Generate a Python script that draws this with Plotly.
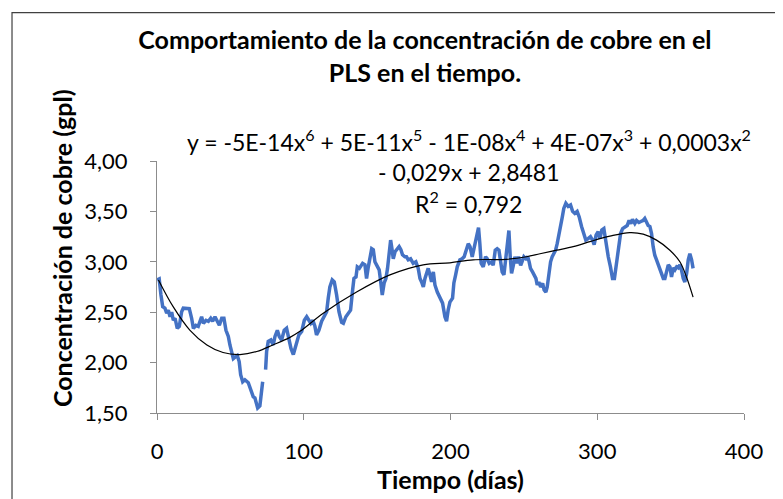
import plotly.graph_objects as go

# Copper concentration in PLS (gpl) by day; None marks the gap in the record
dias = [
    0, 1.5, 2.7, 3.9, 5.4, 6.6, 7.7, 8.9, 10, 11.1, 12.3, 13.8, 15.2, 16.8, 17.9, 20.2,
    22, 23.6, 24.8, 26.5, 28.1, 30.4, 31.6, 33.4, 35, 36.6, 37.9, 39.5, 41, 42.5, 44.1,
    45.6, 47, 48.6, 49.7, 50.9, 52, 53.6, 54.7, 56, 57, 58.4, 59.9, 62.2, 64, 65.6, 66.7,
    67.9, 68.6, 70.1, 71.3, 72, 73, 74, 74.7, 75.8, 77.6, 79.2, 80.4, 82, 83.3, 84.9,
    86.7, 88.3, 89.5, 91.3, 92.9, 94, 95.2, 96.7, 98.6, 100.4, 102, 103.2, 104.8, 106.2,
    107.6, 108.7, 110.3, 112.2, 114, 115.6, 116.7, 117.8, 119.4, 120.8, 122.4, 124, 125.8,
    127, 128.7, 130.4, 131.9, 133.3, 134.2, 135.6, 136.5, 137.9, 139, 140.1, 141.7, 142.8,
    144, 145.1, 146.3, 147.4, 148.5, 149.6, 151.4, 152.3, 153.5, 154.8, 156, 157.1, 158.2,
    159.2, 160.1, 161, 162.2, 163.7, 165, 166.2, 167.3, 168.9, 170, 171.2, 172.8, 174.6,
    176.4, 178, 179.2, 180.3, 181.5, 182.6, 183.7, 184.8, 186, 187.1, 188.3, 189.4, 191,
    192.8, 194.6, 196.2, 197.3, 198.4, 199.6, 201.4, 202.3, 203.5, 204.6, 206.4, 207.9,
    209.3, 211, 212.1, 213.3, 214.8, 216, 217.1, 218.3, 219.1, 220, 220.9, 222.3, 223.9,
    225, 226.4, 228, 229.1, 230.5, 231.8, 233, 234.1, 235.2, 236.4, 237.7, 239.1, 239.8,
    240.7, 241.6, 242.8, 243.9, 245, 246.4, 247.8, 248.9, 250, 251.4, 252.6, 253.6, 254.5,
    255.9, 257, 258.2, 259.1, 260.2, 261.4, 262.8, 263.8, 265, 265.9, 267, 268.2, 269.3,
    270.4, 271.6, 272.7, 273.8, 275, 276.2, 277.2, 278.6, 280.2, 281.8, 283.2, 284.7,
    286.3, 287.7, 289.3, 290.9, 292.2, 293.8, 295.4, 296.8, 297.9, 299.2, 300.6, 301.8,
    303.1, 304.5, 305.9, 307.5, 309, 310.4, 311.7, 313.2, 314.5, 315.9, 317.3, 318.8,
    320.4, 321.7, 322.9, 324, 325.6, 326.8, 328.4, 329.7, 331.3, 332.4, 333.6, 334.7,
    335.9, 337, 338.1, 339.2, 340.4, 341.5, 342.7, 343.8, 345, 346.1, 347.3, 348.4, 349.5,
    350.6, 351.8, 352.9, 354.1, 355.2, 356.3, 357.4, 358.6, 359.7, 360.9, 362, 363.1,
    364.3, 365.3,
]
cobre = [
    2.82, 2.83, 2.67, 2.555, 2.54, 2.49, 2.52, 2.455, 2.50, 2.42, 2.44, 2.34, 2.36, 2.505,
    2.54, 2.54, 2.535, 2.44, 2.34, 2.37, 2.36, 2.455, 2.39, 2.42, 2.41, 2.44, 2.41, 2.455,
    2.41, 2.37, 2.44, 2.44, 2.32, 2.26, 2.175, 2.09, 2.04, 2.06, 2.07, 2.01, 1.88, 1.81,
    1.83, 1.80, 1.71, 1.66, 1.65, 1.58, 1.55, 1.57, 1.71, 1.81, None, 1.93, 2.11, 2.21,
    2.225, 2.175, 2.26, 2.32, 2.26, 2.225, 2.32, 2.34, 2.26, 2.14, 2.08, 2.14, 2.225,
    2.275, 2.31, 2.42, 2.455, 2.42, 2.39, 2.42, 2.36, 2.275, 2.32, 2.41, 2.455, 2.505,
    2.64, 2.75, 2.82, 2.80, 2.67, 2.505, 2.40, 2.39, 2.455, 2.49, 2.52, 2.72, 2.835, 2.85,
    2.95, 2.935, 2.97, 2.985, 2.97, 2.835, 2.95, 3.03, 3.13, 3.12, 3.00, 2.97, 2.92, 2.82,
    2.67, 2.79, 2.835, 2.935, 3.07, 3.215, 3.13, 3.03, 3.10, 3.13, 3.15, 3.12, 3.07, 3.05,
    3.05, 3.02, 3.03, 2.985, 3.00, 2.935, 2.835, 2.80, 2.75, 2.835, 2.90, 2.935, 2.87,
    2.80, 2.90, 2.77, 2.70, 2.65, 2.59, 2.455, 2.41, 2.52, 2.60, 2.64, 2.79, 2.87, 2.95,
    3.02, 3.03, 3.05, 3.115, 3.18, 3.15, 3.05, 3.13, 3.215, 3.27, 3.34, 3.18, 2.985, 2.95,
    3.05, 3.03, 2.985, 3.00, 2.965, 3.115, 3.13, 3.115, 3.00, 2.90, 2.87, 3.05, 3.215,
    3.31, 3.05, 2.885, 2.965, 3.05, 2.985, 3.05, 2.965, 3.00, 3.05, 3.03, 3.05, 3.00,
    2.935, 2.90, 2.87, 2.835, 2.77, 2.80, 2.75, 2.785, 2.72, 2.70, 2.75, 2.87, 3.00, 3.05,
    3.08, 3.115, 3.18, 3.28, 3.36, 3.445, 3.53, 3.58, 3.55, 3.565, 3.50, 3.48, 3.50,
    3.445, 3.35, 3.265, 3.215, 3.23, 3.25, 3.215, 3.17, 3.265, 3.30, 3.23, 3.315, 3.33,
    3.18, 3.05, 2.95, 2.835, 2.835, 2.985, 3.15, 3.28, 3.33, 3.345, 3.36, 3.41, 3.38, 3.42,
    3.38, 3.41, 3.39, 3.40, 3.41, 3.43, 3.40, 3.36, 3.35, 3.28, 3.15, 3.065, 3.02, 2.97,
    2.94, 2.885, 2.835, 2.835, 2.92, 2.97, 2.95, 2.85, 2.94, 2.92, 2.95, 2.94, 2.97, 2.92,
    2.835, 2.80, 2.885, 3.02, 3.08, 3.02, 2.935,
]

# Polynomial trendline as drawn
dias_tend = [1, 11, 22.5, 34, 45, 56.5, 68, 79, 90.6, 97.4, 113.3, 136, 158.7, 181.4,
             199.6, 215.5, 238.2, 251.8, 261, 272.3, 283.6, 295, 301.8, 308.6, 322.2,
             331.3, 340.4, 349.5, 356.3, 360.8, 365.3]
cobre_tend = [2.82, 2.555, 2.32, 2.175, 2.10, 2.08, 2.11, 2.175, 2.25, 2.31, 2.49, 2.70,
              2.87, 2.97, 2.99, 3.02, 3.025, 3.05, 3.08, 3.115, 3.15, 3.20, 3.23, 3.255,
              3.29, 3.275, 3.215, 3.115, 3.00, 2.85, 2.65]

ecuacion = [
    "y = -5E-14x<sup>6</sup> + 5E-11x<sup>5</sup> - 1E-08x<sup>4</sup> + 4E-07x<sup>3</sup> + 0,0003x<sup>2</sup>",
    "- 0,029x + 2,8481",
    "R<sup>2</sup> = 0,792",
]

FONT = "Lato, Carlito, Calibri, sans-serif"
AXIS_GREY = "#8c8c8c"

fig = go.Figure()
fig.add_trace(go.Scatter(
    x=dias, y=cobre, mode="lines", name="Cobre",
    line=dict(color="#4472C4", width=3.5), connectgaps=False,
))
fig.add_trace(go.Scatter(
    x=dias_tend, y=cobre_tend, mode="lines", name="Tendencia",
    line=dict(color="black", width=1.2, shape="spline"),
))

# trendline equation, one annotation per line
for txt, yy in zip(ecuacion, [1.082, 0.955, 0.835]):
    fig.add_annotation(text=txt, xref="paper", yref="paper", x=0.531, y=yy,
                       xanchor="center", yanchor="middle", showarrow=False,
                       font=dict(family=FONT, size=23, color="black"))

# y title sits above the plot-area centre in the original, so it is an annotation
fig.add_annotation(text="<b>Concentración de cobre (gpl)</b>", textangle=-90,
                   xref="paper", yref="paper", x=-0.162, y=0.654,
                   xanchor="center", yanchor="middle", showarrow=False,
                   font=dict(family=FONT, size=25, color="black"))

# chart-area border (top and left edges visible in the crop)
fig.add_shape(type="rect", xref="paper", yref="paper",
              x0=-0.247, y0=-0.6, x1=1.2, y1=1.589,
              line=dict(color="#404040", width=1.2), layer="below")

# page body has an 8px margin, so the figure is a bit smaller and margins shifted
fig.update_layout(
    width=775, height=491,
    margin=dict(l=149, r=39, t=153, b=86),
    paper_bgcolor="white", plot_bgcolor="white",
    separators=",.",
    showlegend=False,
    font=dict(family=FONT, color="black"),
    title=dict(
        text="<b>Comportamiento de la concentración de cobre en el<br>PLS en el tiempo.</b>",
        x=0.538, xanchor="center", y=0.916, yanchor="middle", yref="container",
        font=dict(family=FONT, size=25, color="black"),
    ),
)
fig.update_xaxes(
    range=[0, 400], dtick=100, tick0=0, showgrid=False, zeroline=False,
    showline=True, linecolor=AXIS_GREY, linewidth=1,
    ticks="outside", ticklen=6, tickcolor=AXIS_GREY,
    tickfont=dict(family=FONT, size=22, color="black"), ticklabelstandoff=13,
    title=dict(text="<b>Tiempo (días)</b>", font=dict(family=FONT, size=25, color="black"),
               standoff=5),
)
fig.update_yaxes(
    range=[1.5, 4.0], dtick=0.5, tick0=1.5, tickformat=".2f",
    showgrid=False, zeroline=False,
    showline=True, linecolor=AXIS_GREY, linewidth=1,
    ticks="outside", ticklen=6, tickcolor=AXIS_GREY,
    tickfont=dict(family=FONT, size=22, color="black"), ticklabelstandoff=18,
)

fig.write_html("out.html")
